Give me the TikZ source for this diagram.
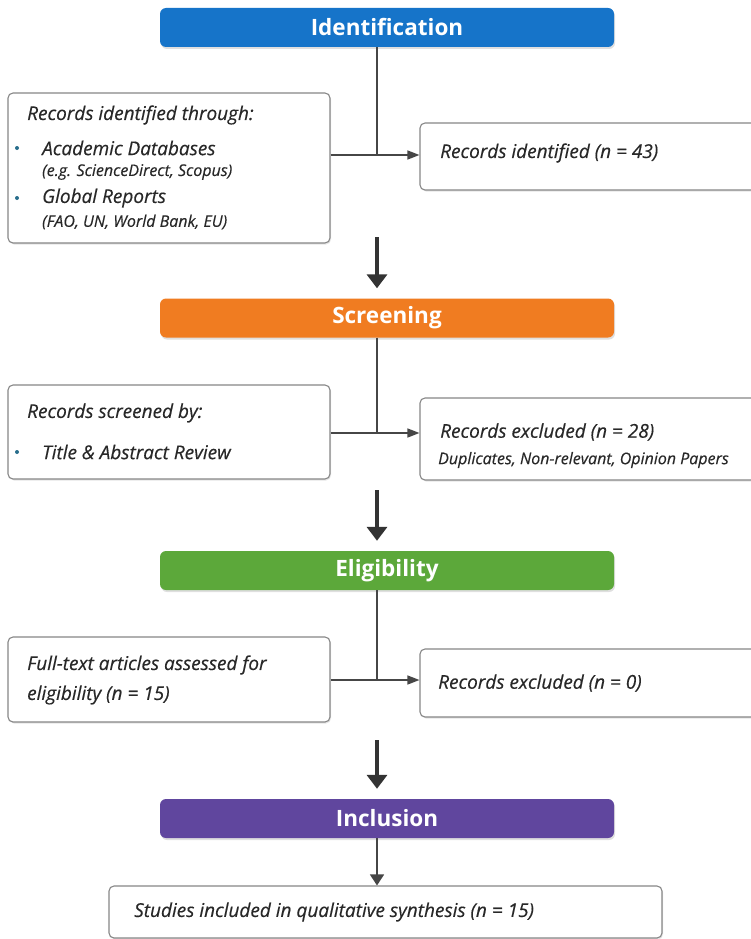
\documentclass[tikz,border=0pt]{standalone}
\usepackage{fontspec}
\setmainfont{Open Sans}
\usetikzlibrary{arrows.meta}
\usetikzlibrary{shadows}
\definecolor{idblue}{RGB}{22,116,201}
\definecolor{scorange}{RGB}{240,124,33}
\definecolor{elgreen}{RGB}{92,168,58}
\definecolor{inpurple}{RGB}{96,70,158}
\definecolor{boxline}{RGB}{135,135,135}
\definecolor{linegray}{RGB}{70,70,70}
\definecolor{txtgray}{RGB}{40,40,40}
\definecolor{dotblue}{RGB}{40,110,140}

\begin{document}
\begin{tikzpicture}[x=1pt,y=-1pt,
  stagebar/.style={rounded corners=6pt, minimum width=454pt, minimum height=39pt, inner sep=0pt, text=white, font=\bfseries\fontsize{22.5}{26}\selectfont, drop shadow={opacity=.25, shadow xshift=1pt, shadow yshift=-2pt}},
  recbox/.style={draw=boxline, line width=1.1pt, fill=white, rounded corners=5pt, inner sep=0pt, drop shadow={opacity=.2, shadow xshift=1pt, shadow yshift=-1.5pt}},
  maintxt/.style={anchor=west, inner sep=0pt, text=txtgray, font=\itshape\fontsize{19}{23}\selectfont\addfontfeature{FakeBold=0.35}},
  subtxt/.style={maintxt, font=\itshape\fontsize{16}{19}\selectfont\addfontfeature{FakeBold=0.3}},
  bulletdot/.style={circle, fill=dotblue, inner sep=0pt, minimum size=4pt},
  link/.style={draw=linegray, line width=1.4pt},
  linkarrow/.style={link, -{Triangle[width=9pt,length=12pt]}},
  bigarrow/.style={draw=black!80, line width=4pt, -{Triangle[width=20pt,length=14pt]}, shorten >=10pt}]
\useasboundingbox (0,0) rectangle (750,939);
\fill[white] (0,0) rectangle (750,939); % page

% stage bars
\node[stagebar, fill=idblue] (idbar) at (387,27.5) {Identification};
\node[stagebar, fill=scorange] (scbar) at (387,318) {Screening};
\node[stagebar, fill=elgreen] (elbar) at (387,570.5) {Eligibility};
\node[stagebar, fill=inpurple] (inbar) at (387,818.5) {Inclusion};

% record boxes
\node[recbox, minimum width=322pt, minimum height=150pt] (idleft) at (169,168) {};
\node[recbox, minimum width=345pt, minimum height=67pt] (idright) at (592.5,156.5) {};
\node[recbox, minimum width=322pt, minimum height=94pt] (scleft) at (169,432) {};
\node[recbox, minimum width=345pt, minimum height=82pt] (scright) at (592.5,439) {};
\node[recbox, minimum width=322pt, minimum height=85pt] (elleft) at (169,679.5) {};
\node[recbox, minimum width=345pt, minimum height=68pt] (elright) at (592.5,683) {};
\node[recbox, minimum width=553pt, minimum height=52pt] (inbox) at (385.5,912) {};

% texts
\node[maintxt] (idhead) at (27,115) {Records identified through:};
\node[bulletdot] (iddot1) at (17,148) {};
\node[maintxt] (iddb) at (42,148) {Academic Databases};
\node[subtxt] (iddbsub) at (42,172) {(e.g. ScienceDirect, Scopus)};
\node[bulletdot] (iddot2) at (17,198) {};
\node[maintxt] (idrep) at (42,198) {Global Reports};
\node[subtxt] (idrepsub) at (42,222) {(FAO, UN, World Bank, EU)};
\node[maintxt] (idn) at (440,153) {Records identified (n = 43)};

\node[maintxt] (schead) at (27,413) {Records screened by:};
\node[bulletdot] (scdot) at (17,452) {};
\node[maintxt] (sctitle) at (42,452) {Title \& Abstract Review};
\node[maintxt] (scn) at (440,432) {Records excluded (n = 28)};
\node[subtxt] (scwhy) at (438,460) {Duplicates, Non-relevant, Opinion Papers};

\node[maintxt] (elhead) at (27,665) {Full-text articles assessed for};
\node[maintxt] (elhead2) at (27,695) {eligibility (n = 15)};
\node[maintxt] (eln) at (438,683) {Records excluded (n = 0)};

\node[maintxt] (inn) at (134,912) {Studies included in qualitative synthesis (n = 15)};

% junctions on the stem
\coordinate (j1) at (377,155);
\coordinate (j2) at (377,433);
\coordinate (j3) at (377,680);

\draw[link] (j1 |- idbar.south) -- (j1);
\draw[linkarrow] (idleft.east |- j1) -- (idright.west |- j1);
\draw[link] (j2 |- scbar.south) -- (j2);
\draw[linkarrow] (scleft.east |- j2) -- (scright.west |- j2);
\draw[link] (j3 |- elbar.south) -- (j3);
\draw[linkarrow] (elleft.east |- j3) -- (elright.west |- j3);

% big arrows between stages
\coordinate (a1) at (377,237);
\coordinate (a2) at (377,490);
\coordinate (a3) at (377,740);
\draw[bigarrow] (a1) -- (a1 |- scbar.north);
\draw[bigarrow] (a2) -- (a2 |- elbar.north);
\draw[bigarrow] (a3) -- (a3 |- inbar.north);
\draw[link, -{Triangle[width=14pt,length=11pt]}] (a3 |- inbar.south) -- (a3 |- inbox.north);
\end{tikzpicture}
\end{document}
